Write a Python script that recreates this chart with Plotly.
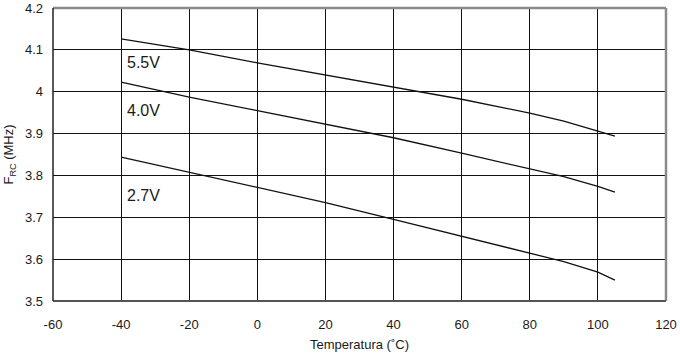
import plotly.graph_objects as go

temps = [-40, -20, 0, 20, 40, 60, 80, 90, 100, 105]
f_55 = [4.126, 4.100, 4.069, 4.040, 4.011, 3.982, 3.949, 3.930, 3.906, 3.894]
f_40 = [4.023, 3.987, 3.955, 3.922, 3.890, 3.853, 3.815, 3.797, 3.774, 3.760]
f_27 = [3.844, 3.808, 3.772, 3.735, 3.695, 3.655, 3.615, 3.594, 3.569, 3.550]
labels = ["5.5V", "4.0V", "2.7V"]
label_y = [4.07, 3.954, 3.753]
x_ticks = [-60, -40, -20, 0, 20, 40, 60, 80, 100, 120]
x_tick_text = ["-60", "-40", "-20", "0", "20", "40", "60", "80", "100", "120"]
y_ticks = [3.5, 3.6, 3.7, 3.8, 3.9, 4.0, 4.1, 4.2]
y_tick_text = ["3.5", "3.6", "3.7", "3.8", "3.9", "4", "4.1", "4.2"]

FONT = "Liberation Sans, Arial"

fig = go.Figure()
for ys in (f_55, f_40, f_27):
    fig.add_trace(go.Scatter(x=temps, y=ys, mode="lines",
                             line=dict(color="#111111", width=1.3),
                             showlegend=False, hoverinfo="skip"))

for lab, ly in zip(labels, label_y):
    fig.add_annotation(x=-38.8, y=ly, text=lab, showarrow=False,
                       xanchor="left", yanchor="middle",
                       font=dict(family=FONT, size=16, color="#1a1a1a"))

fig.add_shape(type="line", xref="paper", yref="paper", x0=0, x1=1, y0=1, y1=1,
              line=dict(color="#8a8a8a", width=2.5))
fig.add_shape(type="line", xref="paper", yref="paper", x0=1, x1=1, y0=0, y1=1,
              line=dict(color="#8a8a8a", width=2.5))
fig.add_shape(type="line", xref="paper", yref="paper", x0=0, x1=1, y0=0, y1=0,
              line=dict(color="#555555", width=2))
fig.add_shape(type="line", xref="paper", yref="paper", x0=0, x1=0, y0=0, y1=1,
              line=dict(color="#222222", width=1.5))

fig.update_layout(
    width=680, height=355,
    margin=dict(l=53, r=14, t=8, b=54),
    plot_bgcolor="white", paper_bgcolor="white",
    font=dict(family=FONT, size=13, color="#1a1a1a"),
    xaxis=dict(range=[-60, 120], tickvals=x_ticks, ticktext=x_tick_text,
               showgrid=True, gridcolor="#111111", gridwidth=1, zeroline=False,
               ticks="", ticklabelstandoff=14, automargin=False,
               tickfont=dict(size=13, color="#1a1a1a"),
               title=dict(text="Temperatura (˚C)", font=dict(size=13, color="#1a1a1a"), standoff=8)),
    yaxis=dict(range=[3.5, 4.2], tickvals=y_ticks, ticktext=y_tick_text,
               showgrid=True, gridcolor="#111111", gridwidth=1, zeroline=False,
               ticks="", ticklabelstandoff=9, automargin=False,
               tickfont=dict(size=13, color="#1a1a1a"),
               title=dict(text="F<sub>RC</sub> (MHz)", font=dict(size=13, color="#1a1a1a"), standoff=8)),
)

fig.write_html("out.html", config={"displayModeBar": False},
               post_script="document.body.style.margin='0';document.body.style.padding='0';")
